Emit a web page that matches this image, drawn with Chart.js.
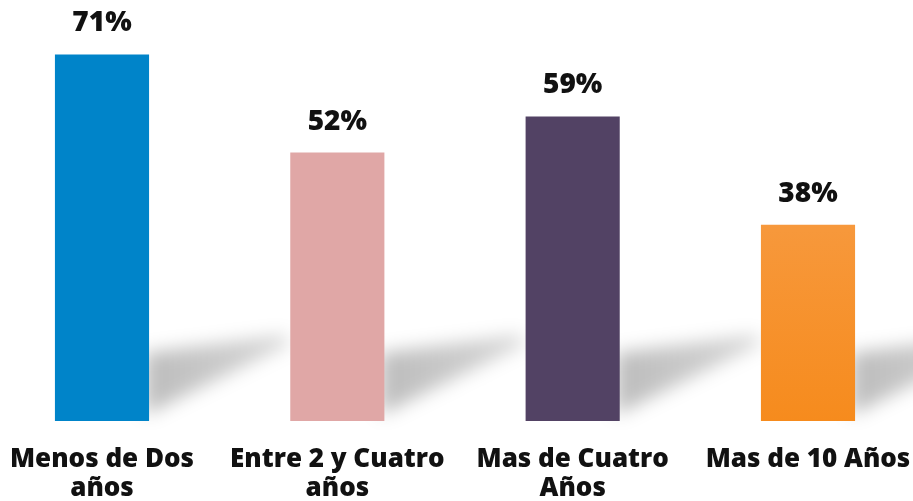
<!DOCTYPE html>
<html lang="es">
<head>
    <meta charset="UTF-8">
    <title>Años</title>
    <script src="https://cdn.jsdelivr.net/npm/chart.js"></script>
    <style>
        html, body {
            margin: 0;
            padding: 0;
            background-color: #fff;
            overflow: hidden;
        }
        .chart-container {
            width: 913px;
            height: 501px;
        }
    </style>
</head>
<body>
    <div class="chart-container">
        <canvas id="aniosChart"></canvas>
    </div>

    <script>
        // datos
        const categorias = [
            ['Menos de Dos', 'años'],
            ['Entre 2 y Cuatro', 'años'],
            ['Mas de Cuatro', 'Años'],
            ['Mas de 10 Años']
        ];
        const porcentajes = [71, 52, 59, 38];

        const colores = ['#0084c9', '#e0a7a6', '#524264', null];
        const fuente = '"Open Sans", sans-serif';

        // sombra diagonal detras de cada barra
        const sombraPlugin = {
            id: 'sombra',
            beforeDatasetsDraw(chart) {
                const ctx = chart.ctx;
                const meta = chart.getDatasetMeta(0);
                ctx.save();
                ctx.filter = 'blur(9px)';
                meta.data.forEach(bar => {
                    const r = bar.x + bar.width / 2;
                    const b = bar.base;
                    const g = ctx.createLinearGradient(r, 0, r + 140, 0);
                    g.addColorStop(0, 'rgba(0, 0, 0, 0.26)');
                    g.addColorStop(1, 'rgba(0, 0, 0, 0.16)');
                    ctx.fillStyle = g;
                    ctx.beginPath();
                    ctx.moveTo(r - 4, b - 68);
                    ctx.lineTo(r - 4, b - 6);
                    ctx.lineTo(r + 142, b - 78);
                    ctx.lineTo(r + 134, b - 86);
                    ctx.closePath();
                    ctx.fill();
                });
                ctx.restore();
            }
        };

        // etiquetas de valor
        const etiquetasPlugin = {
            id: 'etiquetas',
            afterDatasetsDraw(chart) {
                const ctx = chart.ctx;
                const meta = chart.getDatasetMeta(0);
                ctx.save();
                ctx.fillStyle = '#111';
                ctx.font = '800 28px ' + fuente;
                ctx.textAlign = 'center';
                ctx.textBaseline = 'alphabetic';
                meta.data.forEach((bar, i) => {
                    ctx.fillText(porcentajes[i] + '%', bar.x, bar.y - 23);
                });
                ctx.restore();
            }
        };

        const config = {
            type: 'bar',
            data: {
                labels: categorias,
                datasets: [{
                    data: porcentajes,
                    clip: false,
                    categoryPercentage: 0.8,
                    barPercentage: 0.5,
                    borderWidth: 0,
                    backgroundColor: function(context) {
                        const i = context.dataIndex;
                        if (colores[i]) return colores[i];
                        const area = context.chart.chartArea;
                        if (!area) return '#f7961f';
                        const el = context.chart.getDatasetMeta(0).data[i];
                        const top = el && el.y ? el.y : area.top;
                        const g = context.chart.ctx.createLinearGradient(0, top, 0, area.bottom);
                        g.addColorStop(0, '#f8a75e');
                        g.addColorStop(1, '#f68b1d');
                        return g;
                    }
                }]
            },
            options: {
                responsive: true,
                maintainAspectRatio: false,
                animation: false,
                layout: {
                    padding: { left: 102, right: 105, top: 8, bottom: 0 }
                },
                scales: {
                    x: {
                        offset: false,
                        grid: { display: false, drawTicks: false },
                        border: { display: false },
                        ticks: {
                            padding: 24,
                            color: '#111',
                            maxRotation: 0,
                            autoSkip: false,
                            font: { family: fuente, size: 26, weight: '800', lineHeight: 1.12 }
                        },
                        afterFit(scale) {
                            scale.height = 80;
                            scale.paddingLeft = 0;
                            scale.paddingRight = 0;
                        }
                    },
                    y: {
                        display: false,
                        min: 0,
                        max: 80
                    }
                },
                plugins: {
                    legend: { display: false },
                    tooltip: { enabled: false }
                }
            },
            plugins: [sombraPlugin, etiquetasPlugin]
        };

        window.onload = function() {
            const ctx = document.getElementById('aniosChart').getContext('2d');
            new Chart(ctx, config);
        };
    </script>
</body>
</html>
